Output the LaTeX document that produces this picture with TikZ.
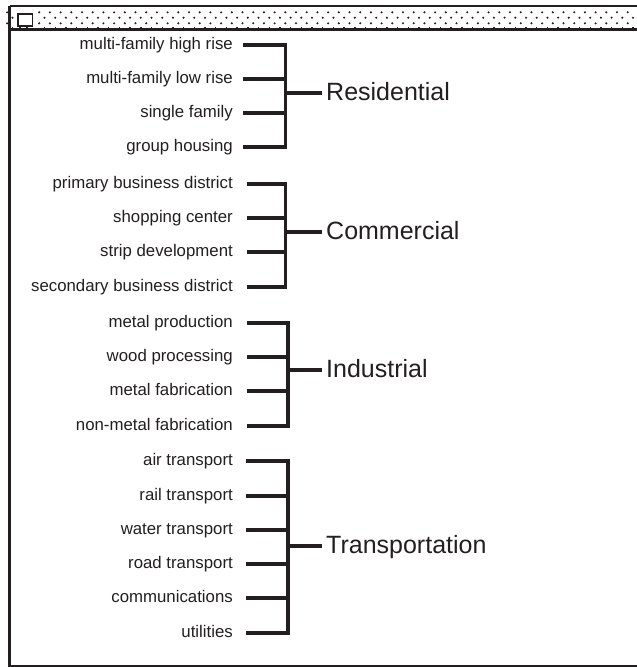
\documentclass[tikz,border=0pt]{standalone}
\usepackage{fontspec}
\setmainfont{Liberation Sans}
\definecolor{ink}{HTML}{231F20}
\tikzset{
  item/.style={anchor=base east, inner sep=0pt, font=\fontsize{16.8}{18}\selectfont, text=ink},
  cat/.style={anchor=base west, inner sep=0pt, font=\fontsize{25}{28}\selectfont, text=ink},
  bar/.style={draw=ink, line width=3.2pt},
  rim/.style={draw=ink, line width=2.2pt},
  speck/.style={fill=ink},
}
% #1 prefix, #2 line start x, #3 spine x, #4 connector y, #5 category, #6 item count, #7 items (text/y)
\newcommand\branchgroup[7]{%
  \foreach \t/\y [count=\i] in {#7} {
    \node[item] (#1t\i) at (233,\y+4.5) {\t};
    \coordinate (#1a\i) at (#2,\y);
    \coordinate (#1b\i) at (#3,\y);
    \draw[bar] (#1a\i) -- (#1b\i);
  }
  \draw[bar, line cap=rect] (#1b1) -- (#1b#6);
  \coordinate (#1m) at (#3,#4);
  \coordinate (#1c) at (322,#4);
  \node[cat] (#1cat) at (326,#4+7.5) {#5};
  \draw[bar] (#1m) -- (#1c);
}
\begin{document}
\begin{tikzpicture}[x=1pt,y=-1pt]
\useasboundingbox (0,0) rectangle (637,667);
\clip (0,0) rectangle (637,667);
\fill[white] (0,0) rectangle (637,667);

% window title bar with dotted fill
\foreach \k in {0,...,59} {
  \fill[speck] (7.1+10.7*\k,12.3) circle (1.15);
  \fill[speck] (12.4+10.7*\k,17.7) circle (1.15);
  \fill[speck] (7.1+10.7*\k,23.3) circle (1.15);
  \fill[speck] (11.7+10.7*\k,27) rectangle (13.1+10.7*\k,29);
}
\draw[ink, line width=2pt] (9.5,6) -- (645,6);
\draw[ink, line width=2.6pt] (9.5,29.6) -- (645,29.6);

% close box
\fill[white] (14.5,10) rectangle (35.5,27.6);
\draw[ink, line width=1.8pt] (17.6,13.6) rectangle (32.4,25.8);
\fill[ink] (18.8,25.8) rectangle (20.6,28.5);
\fill[ink] (26.2,25.8) rectangle (28,28.5);

% window frame
\draw[rim] (9.5,6) -- (9.5,665.6) -- (645,665.6);

\branchgroup{res}{243}{285.5}{93}{Residential}{4}{%
  multi-family high rise/45, multi-family low rise/79, single family/113, group housing/147}
\branchgroup{com}{247}{285.5}{232}{Commercial}{4}{%
  primary business district/184, shopping center/218, strip development/252, secondary business district/287}
\branchgroup{ind}{247}{288}{370}{Industrial}{4}{%
  metal production/323, wood processing/357, metal fabrication/391, non-metal fabrication/426}
\branchgroup{tra}{246}{288}{546}{Transportation}{6}{%
  air transport/461, rail transport/496, water transport/530, road transport/564, communications/598, utilities/633}
\end{tikzpicture}
\end{document}
